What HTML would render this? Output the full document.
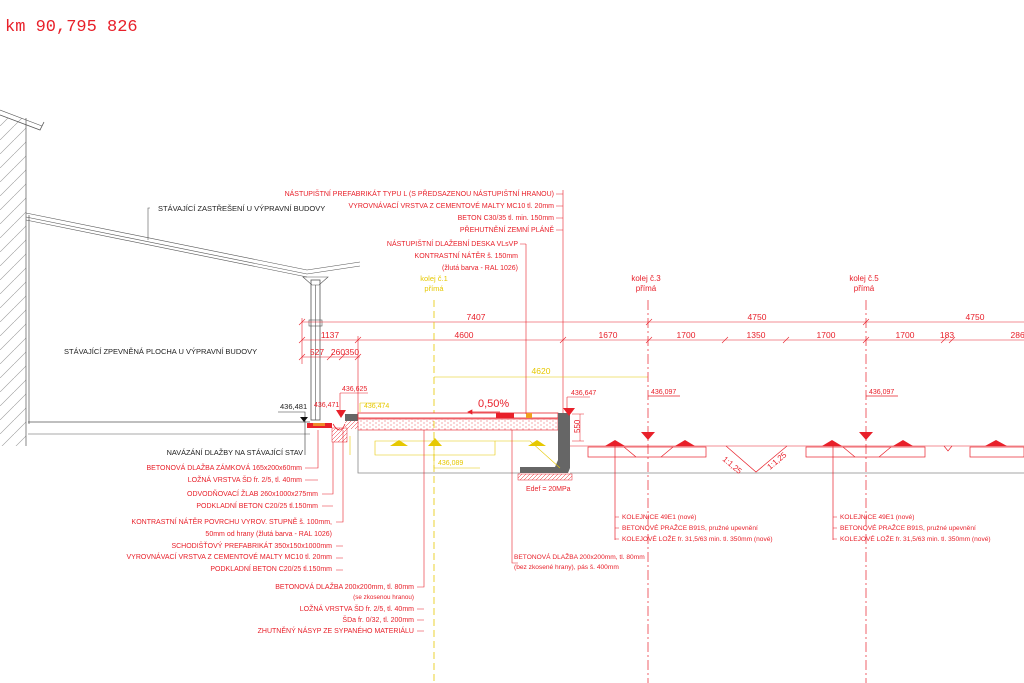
<!DOCTYPE html>
<html><head><meta charset="utf-8"><style>
html,body{margin:0;padding:0;background:#fff;width:1024px;height:683px;overflow:hidden}
svg{display:block}
text{font-family:"Liberation Sans",sans-serif}
.r{fill:#e8202a;font-size:7px}
.k{fill:#222;font-size:7.5px}
.y{fill:#e6c800;font-size:7.5px}
.d{fill:#e8202a;font-size:8.5px}
</style></head><body>
<svg width="1024" height="683" viewBox="0 0 1024 683" xmlns="http://www.w3.org/2000/svg">
<defs>
<pattern id="h" width="14" height="14" patternUnits="userSpaceOnUse"><path d="M0 14L14 0" stroke="#999" stroke-width="0.6"/></pattern>
<pattern id="hr" width="4" height="4" patternUnits="userSpaceOnUse"><path d="M0 4L4 0" stroke="#e8202a" stroke-width="0.5"/></pattern>
<pattern id="dots" width="6" height="4" patternUnits="userSpaceOnUse"><circle cx="1" cy="1" r="0.5" fill="#e8202a"/><circle cx="4" cy="3" r="0.5" fill="#e8202a"/></pattern>
</defs>
<text x="5" y="31" style="fill:#e8202a;font-size:17px;font-family:'Liberation Mono',monospace">km 90,795 826</text>

<!-- building -->
<rect x="0" y="118" width="26" height="328" fill="url(#h)"/>
<line x1="26" y1="118" x2="26" y2="446" stroke="#555" stroke-width="0.7"/>
<line x1="29" y1="215" x2="29" y2="424" stroke="#555" stroke-width="0.7"/>
<path d="M0 115L40 130L44 122" fill="none" stroke="#555" stroke-width="0.8"/>
<path d="M0 110L42 126" fill="none" stroke="#555" stroke-width="0.6"/>
<path d="M26 213L307 270L360 262M26 217L307 274L360 266M26 220L307 277" fill="none" stroke="#555" stroke-width="0.6"/>
<path d="M150 208L148 208L148 240" fill="none" stroke="#555" stroke-width="0.6"/>
<text x="158" y="211" class="k">STÁVAJÍCÍ ZASTŘEŠENÍ U VÝPRAVNÍ BUDOVY</text>
<text x="64" y="354" class="k">STÁVAJÍCÍ ZPEVNĚNÁ PLOCHA U VÝPRAVNÍ BUDOVY</text>
<rect x="311" y="280" width="9" height="140" fill="none" stroke="#555" stroke-width="0.8"/>
<line x1="315.5" y1="285" x2="315.5" y2="420" stroke="#555" stroke-width="0.6"/>
<path d="M303 277L328 277L319 285L312 285Z" fill="none" stroke="#555" stroke-width="0.6"/>
<rect x="309" y="320" width="13" height="6" fill="none" stroke="#555" stroke-width="0.6"/>
<line x1="28" y1="422" x2="310" y2="422" stroke="#555" stroke-width="0.8"/>
<line x1="28" y1="434" x2="310" y2="434" stroke="#555" stroke-width="0.6"/>
<path d="M278 412L305 412L305 455" fill="none" stroke="#333" stroke-width="0.6"/>
<text x="280" y="409" class="k">436,481</text>
<path d="M300 417L308 417L304 422Z" fill="#111"/>
<rect x="307" y="423" width="25" height="5" fill="#e8202a"/>
<rect x="313" y="423" width="12" height="3" fill="#f08a2a"/>
<rect x="332" y="428" width="15" height="14" fill="url(#hr)" stroke="#e8202a" stroke-width="0.5"/>
<path d="M333 424q7 12 12 0" fill="none" stroke="#e8202a" stroke-width="0.8"/>
<rect x="345" y="414" width="13" height="7" fill="#666"/>
<rect x="345" y="421" width="13" height="8" fill="url(#hr)"/>
<text x="314" y="407" class="r">436,471</text>
<path d="M340 393L368 393M340 393L340 410" fill="none" stroke="#e8202a" stroke-width="0.6"/>
<text x="342" y="391" class="r">436,625</text>
<path d="M336 410L346 410L341 418Z" fill="#e8202a"/>
<path d="M360 403L385 403M360 403L360 412" fill="none" stroke="#e6c800" stroke-width="0.6"/>
<text x="364" y="408" class="y" style="font-size:7px">436,474</text>

<!-- dimension lines -->
<g stroke="#e8202a" stroke-width="0.6" fill="none">
<line x1="302" y1="322" x2="1024" y2="322"/>
<line x1="302" y1="340" x2="1024" y2="340"/>
<line x1="302" y1="357" x2="360" y2="357"/>
<path d="M299 325l6-6M646 325l6-6M863 325l6-6M299 343l6-6M355 343l6-6M560 343l6-6M646 343l6-6M722 343l6-6M783 343l6-6M863 343l6-6M941 343l6-6M949 343l6-6M299 360l6-6M327 360l6-6M339 360l6-6M355 360l6-6"/>
<line x1="302" y1="318" x2="302" y2="364"/>
<line x1="563" y1="190" x2="563" y2="414"/>
<line x1="358" y1="336" x2="358" y2="414"/>
</g>
<g class="d" text-anchor="middle">
<text x="476" y="320">7407</text><text x="757" y="320">4750</text><text x="975" y="320">4750</text>
<text x="330" y="338">1137</text><text x="464" y="338">4600</text><text x="608" y="338">1670</text><text x="686" y="338">1700</text><text x="756" y="338">1350</text><text x="826" y="338">1700</text><text x="905" y="338">1700</text><text x="947" y="338">183</text><text x="1020" y="338">2867</text>
<text x="317" y="355">527</text><text x="338" y="355">260</text><text x="352" y="355">350</text>
</g>
<line x1="434" y1="377" x2="648" y2="377" stroke="#e6c800" stroke-width="0.6"/>
<text x="541" y="374" class="y" text-anchor="middle" style="font-size:8.5px">4620</text>
<line x1="434" y1="300" x2="434" y2="683" stroke="#e6c800" stroke-width="0.8" stroke-dasharray="7,4"/>
<line x1="648" y1="300" x2="648" y2="683" stroke="#e8202a" stroke-width="0.7" stroke-dasharray="10,3,2,3"/>
<line x1="866" y1="300" x2="866" y2="683" stroke="#e8202a" stroke-width="0.7" stroke-dasharray="10,3,2,3"/>
<text x="434" y="281" class="y" text-anchor="middle">kolej č.1</text>
<text x="434" y="291" class="y" text-anchor="middle">přímá</text>
<text x="646" y="281" class="r" text-anchor="middle" style="font-size:8px">kolej č.3</text>
<text x="646" y="291" class="r" text-anchor="middle" style="font-size:8px">přímá</text>
<text x="864" y="281" class="r" text-anchor="middle" style="font-size:8px">kolej č.5</text>
<text x="864" y="291" class="r" text-anchor="middle" style="font-size:8px">přímá</text>

<!-- platform -->
<rect x="358" y="413" width="200" height="5" fill="#fff" stroke="#e8202a" stroke-width="0.8"/>
<rect x="496" y="413" width="18" height="5" fill="#e8202a"/>
<rect x="526" y="413" width="6" height="5" fill="#f0a020"/>
<rect x="358" y="419" width="200" height="11" fill="url(#dots)" stroke="#e8202a" stroke-width="0.6"/>
<path d="M558 413L570 413L570 468L568 473L520 473L520 467L555 467L558 460Z" fill="#666"/>
<rect x="518" y="474" width="54" height="6" fill="url(#hr)" stroke="#e8202a" stroke-width="0.5"/>
<text x="526" y="491" class="r">Edef = 20MPa</text>
<path d="M358 430L358 473L520 473M570 473L1024 473" fill="none" stroke="#888" stroke-width="0.8"/>
<text x="478" y="407" class="r" style="font-size:11px">0,50%</text>
<path d="M468 412L500 412M468 412l4-2v4z" stroke="#e8202a" stroke-width="0.7" fill="#e8202a"/>
<path d="M567 397L590 397M567 397L567 410" fill="none" stroke="#e8202a" stroke-width="0.6"/>
<text x="571" y="395" class="r">436,647</text>
<path d="M563 408L575 408L569 416Z" fill="#e8202a"/>
<path d="M572 414L584 414M572 441L584 441M580 414L580 441" stroke="#e8202a" stroke-width="0.5"/>
<text x="580" y="433" class="r" transform="rotate(-90 580 433)" style="font-size:8px">550</text>
<!-- yellow existing -->
<g stroke="#e6c800" stroke-width="0.6" fill="none">
<path d="M375 441L495 441L495 455L375 455Z"/>
<path d="M495 441L530 441L560 468"/>
<path d="M434 440L434 468L480 468"/>
<path d="M350 436L350 455"/>
</g>
<path d="M390 446h18l-9-6z M528 446h18l-9-6z M428 446h14l-7-8z" fill="#e6c800"/>
<text x="438" y="465" class="y" style="font-size:7px">436,089</text>

<!-- tracks -->
<line x1="570" y1="446" x2="1024" y2="446" stroke="#e8202a" stroke-width="0.6"/>
<g stroke="#e8202a" stroke-width="0.7" fill="none">
<rect x="588" y="447" width="118" height="10"/>
<rect x="806" y="447" width="119" height="10"/>
<rect x="970" y="447" width="54" height="10"/>
<path d="M624 447L636 457M673 447L661 457M843 447L855 457M891 447L879 457"/>
<path d="M726 446L756 472L787 446M944 446L948 451L952 446"/>
<path d="M615 446L615 540M833 446L833 540"/>
<path d="M648 396L680 396M866 396L898 396"/>
</g>
<g fill="#e8202a">
<path d="M605 446h20l-10-6z M675 446h20l-10-6z M822 446h20l-10-6z M893 446h20l-10-6z M985 446h22l-11-6z"/>
<path d="M641 432L655 432L648 440Z M859 432L873 432L866 440Z"/>
</g>
<text x="651" y="394" class="r">436,097</text>
<text x="869" y="394" class="r">436,097</text>
<text x="722" y="460" class="r" transform="rotate(40 722 460)" style="font-size:8px">1:1,25</text>
<text x="770" y="470" class="r" transform="rotate(-40 770 470)" style="font-size:8px">1:1,25</text>

<!-- top labels -->
<g class="r" text-anchor="end">
<text x="554" y="196">NÁSTUPIŠTNÍ PREFABRIKÁT TYPU L (S PŘEDSAZENOU NÁSTUPIŠTNÍ HRANOU)</text>
<text x="554" y="208">VYROVNÁVACÍ VRSTVA Z CEMENTOVÉ MALTY MC10 tl. 20mm</text>
<text x="554" y="220">BETON C30/35 tl. min. 150mm</text>
<text x="554" y="232">PŘEHUTNĚNÍ ZEMNÍ PLÁNĚ</text>
<text x="518" y="246">NÁSTUPIŠTNÍ DLAŽEBNÍ DESKA VLsVP</text>
<text x="518" y="258">KONTRASTNÍ NÁTĚR š. 150mm</text>
<text x="518" y="270">(žlutá barva - RAL 1026)</text>
</g>
<path d="M556 194h7M556 206h7M556 218h7M556 230h7M520 244h6M526 244V414" stroke="#e8202a" stroke-width="0.6"/>

<!-- left labels -->
<text x="303" y="455" class="k" text-anchor="end" style="font-size:7.3px">NAVÁZÁNÍ DLAŽBY NA STÁVAJÍCÍ STAV</text>
<g class="r" text-anchor="end">
<text x="302" y="470">BETONOVÁ DLAŽBA ZÁMKOVÁ 165x200x60mm</text>
<text x="302" y="482">LOŽNÁ VRSTVA ŠD fr. 2/5, tl. 40mm</text>
<text x="318" y="496">ODVODŇOVACÍ ŽLAB 260x1000x275mm</text>
<text x="318" y="508">PODKLADNÍ BETON C20/25 tl.150mm</text>
<text x="332" y="524">KONTRASTNÍ NÁTĚR POVRCHU VYROV. STUPNĚ š. 100mm,</text>
<text x="332" y="536">50mm od hrany (žlutá barva - RAL 1026)</text>
<text x="332" y="548">SCHODIŠŤOVÝ PREFABRIKÁT 350x150x1000mm</text>
<text x="332" y="559">VYROVNÁVACÍ VRSTVA Z CEMENTOVÉ MALTY MC10 tl. 20mm</text>
<text x="332" y="571">PODKLADNÍ BETON C20/25 tl.150mm</text>
<text x="414" y="589">BETONOVÁ DLAŽBA 200x200mm, tl. 80mm</text>
<text x="414" y="599" style="font-size:6.3px">(se zkosenou hranou)</text>
<text x="414" y="611">LOŽNÁ VRSTVA ŠD fr. 2/5, tl. 40mm</text>
<text x="414" y="622">ŠDa fr. 0/32, tl. 200mm</text>
<text x="414" y="633">ZHUTNĚNÝ NÁSYP ZE SYPANÉHO MATERIÁLU</text>
</g>
<g stroke="#e8202a" stroke-width="0.6" fill="none">
<path d="M305 468h13V430M305 480h13"/>
<path d="M322 494h11V442M322 506h11"/>
<path d="M336 522h7V430M336 546h7M336 558h7M336 570h7"/>
<path d="M417 587h7V430M417 609h7M417 620h7M417 631h7"/>
<path d="M512 430V563h6"/>
<path d="M615 517h4M615 528h4M615 539h4"/>
<path d="M833 517h4M833 528h4M833 539h4"/>
</g>
<g class="r" style="font-size:6.6px">
<text x="622" y="519">KOLEJNICE 49E1 (nové)</text>
<text x="622" y="530">BETONOVÉ PRAŽCE B91S, pružné upevnění</text>
<text x="622" y="541">KOLEJOVÉ LOŽE fr. 31,5/63 min. tl. 350mm (nové)</text>
<text x="840" y="519">KOLEJNICE 49E1 (nové)</text>
<text x="840" y="530">BETONOVÉ PRAŽCE B91S, pružné upevnění</text>
<text x="840" y="541">KOLEJOVÉ LOŽE fr. 31,5/63 min. tl. 350mm (nové)</text>
<text x="514" y="559">BETONOVÁ DLAŽBA 200x200mm, tl. 80mm</text>
<text x="514" y="569">(bez zkosené hrany), pás š. 400mm</text>
</g>
</svg>
</body></html>
